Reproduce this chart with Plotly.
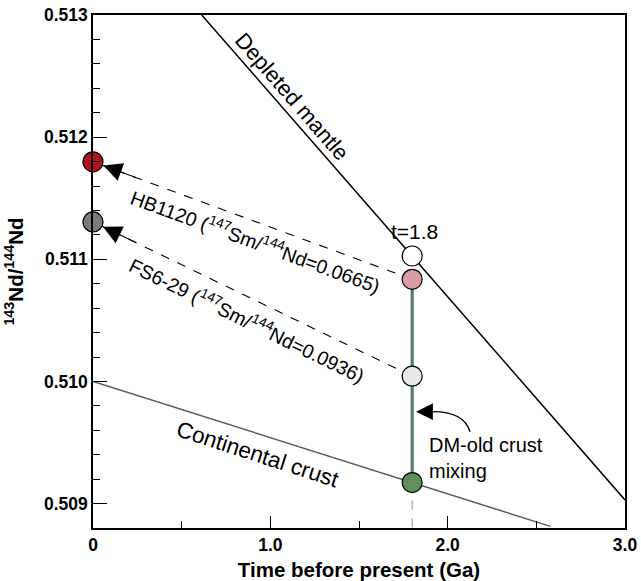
import plotly.graph_objects as go

# Nd evolution reference lines (time in Ga, 143Nd/144Nd)
dm_t = [0.613, 3.0]
dm_nd = [0.513, 0.50903]
crust_t = [0.0, 2.58]
crust_nd = [0.510, 0.508813]

# Samples: present-day ratio and ratio back-calculated to t = 1.8 Ga
sample_names = ["HB1120", "FS6-29"]
sample_smnd = ["0.0665", "0.0936"]
nd_today = [0.511798, 0.511306]
nd_t18 = [0.510836, 0.510043]
today_colors = ["#b0141c", "#7b7b7b"]
t18_colors = ["#d99ba2", "#e8e8e8"]

t_model = 1.8
dm_at_t = 0.511027
crust_at_t = 0.509172

FONT = "Liberation Sans, Arial, Helvetica, sans-serif"

fig = go.Figure()

# depleted mantle and continental crust evolution
fig.add_trace(go.Scatter(x=dm_t, y=dm_nd, mode="lines",
                         line=dict(color="black", width=1.5), hoverinfo="skip"))
fig.add_trace(go.Scatter(x=crust_t, y=crust_nd, mode="lines",
                         line=dict(color="#5a5a5a", width=1.5), hoverinfo="skip"))

# drop line from the crust point to the time axis
fig.add_trace(go.Scatter(x=[t_model, t_model], y=[crust_at_t, 0.5088], mode="lines",
                         line=dict(color="#a8a8a8", width=1.3, dash="dash"), hoverinfo="skip"))

# mixing line between DM-derived melt and old crust
fig.add_trace(go.Scatter(x=[t_model, t_model], y=[nd_t18[0], crust_at_t], mode="lines",
                         line=dict(color="#4f7f68", width=3.2), hoverinfo="skip"))

# dashed growth lines from t=1.8 to present
for i in range(2):
    fig.add_trace(go.Scatter(x=[t_model, 0.0], y=[nd_t18[i], nd_today[i]], mode="lines",
                             line=dict(color="black", width=1.1, dash="dash"),
                             hoverinfo="skip"))
    # arrowhead near the present-day point
    fig.add_annotation(x=0.0, y=nd_today[i], ax=0.25,
                       ay=nd_today[i] + (nd_t18[i] - nd_today[i]) * 0.25 / t_model,
                       xref="x", yref="y", axref="x", ayref="y",
                       showarrow=True, arrowhead=2, arrowsize=3.4, arrowwidth=1.1,
                       arrowcolor="black", standoff=11, text="")

# markers
fig.add_trace(go.Scatter(x=[t_model], y=[dm_at_t], mode="markers",
                         marker=dict(size=20, color="white", line=dict(color="black", width=1.2)),
                         hoverinfo="skip"))
fig.add_trace(go.Scatter(x=[t_model] * 2, y=nd_t18, mode="markers",
                         marker=dict(size=20, color=t18_colors, line=dict(color="black", width=1.2)),
                         hoverinfo="skip"))
fig.add_trace(go.Scatter(x=[t_model], y=[crust_at_t], mode="markers",
                         marker=dict(size=20, color="#5f8f5c", line=dict(color="black", width=1.2)),
                         hoverinfo="skip"))
fig.add_trace(go.Scatter(x=[0.0, 0.0], y=nd_today, mode="markers",
                         marker=dict(size=20, color=today_colors, line=dict(color="black", width=1.2)),
                         hoverinfo="skip", cliponaxis=False))

# curved pointer to the mixing line
fig.add_shape(type="path", xref="x", yref="y",
              path="M 2.126,0.509588 Q 2.09,0.509765 1.89,0.509752",
              line=dict(color="black", width=1.3))
fig.add_annotation(x=1.822, y=0.509752, ax=1.91, ay=0.509752,
                   xref="x", yref="y", axref="x", ayref="y",
                   showarrow=True, arrowhead=2, arrowsize=2.8, arrowwidth=1.2,
                   arrowcolor="black", text="")

def txt(size):
    return dict(family=FONT, size=size, color="black")

fig.add_annotation(x=1.122, y=0.512334, text="Depleted mantle", textangle=49,
                   showarrow=False, font=txt(22))
fig.add_annotation(x=0.93, y=0.509399, text="Continental crust", textangle=18,
                   showarrow=False, font=txt(22.5))
fig.add_annotation(x=1.815, y=0.511227, text="t=1.8", showarrow=False, font=txt(21))
fig.add_annotation(x=1.883, y=0.509374, text="DM-old crust<br>mixing", align="left",
                   xanchor="left", showarrow=False, font=txt(20))

label_pos = [(0.919, 0.511153, 20), (0.874, 0.510506, 26)]
for i, (lx, ly, ang) in enumerate(label_pos):
    fig.add_annotation(
        x=lx, y=ly, textangle=ang, showarrow=False, font=txt(19.5),
        text=f"{sample_names[i]} (<sup>147</sup>Sm/<sup>144</sup>Nd={sample_smnd[i]})")

axis_font = dict(family=FONT, size=17.5, color="black", weight="bold")
title_font = dict(family=FONT, size=20.5, color="black", weight="bold")

fig.update_layout(
    width=641, height=581,
    margin=dict(l=93, r=16, t=15, b=53, autoexpand=False),
    paper_bgcolor="white", plot_bgcolor="white",
    showlegend=False,
    xaxis=dict(range=[0, 3.0], tickvals=[0, 1, 2, 3], ticktext=["0", "1.0", "2.0", "3.0"],
               ticks="inside", ticklen=12, tickwidth=1.3, tickcolor="black",
               minor=dict(dtick=0.5, ticks="inside", ticklen=7, tickwidth=1.1, tickcolor="black"),
               showline=True, linecolor="black", linewidth=1.5, mirror=True,
               showgrid=False, zeroline=False, tickfont=axis_font, automargin=False,
               title=dict(text="Time before present (Ga)", font=title_font)),
    yaxis=dict(range=[0.5088, 0.513], tickvals=[0.509, 0.510, 0.511, 0.512, 0.513],
               ticktext=["0.509", "0.510", "0.511", "0.512", "0.513"],
               ticks="inside", ticklen=14, tickwidth=1.3, tickcolor="black",
               minor=dict(dtick=0.0002, tick0=0.509, ticks="inside", ticklen=7, tickwidth=1.1,
                          tickcolor="black"),
               showline=True, linecolor="black", linewidth=1.5, mirror=True,
               showgrid=False, zeroline=False, tickfont=axis_font, automargin=False,
               title=dict(text="<sup>143</sup>Nd/<sup>144</sup>Nd", font=title_font)),
)

fig.write_html("out.html")
